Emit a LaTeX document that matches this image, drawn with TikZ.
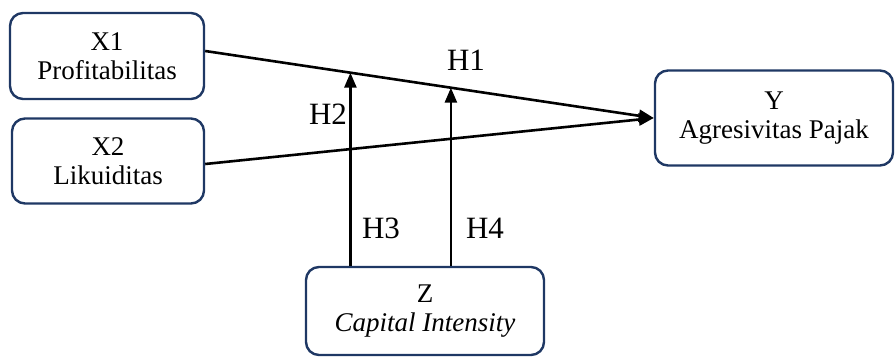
\documentclass[tikz,border=0pt]{standalone}
\usepackage{fontspec}
\setmainfont{Liberation Serif}
\usetikzlibrary{arrows.meta,calc}
\definecolor{boxblue}{HTML}{1F3864}
\begin{document}
\begin{tikzpicture}[x=1pt,y=-1pt,
  varbox/.style={draw=boxblue,line width=2.4pt,rounded corners=13pt,align=center,
    font=\fontsize{27}{29}\selectfont,inner sep=0pt},
  link/.style={line width=2.6pt,-{Triangle[length=15pt,width=12pt]}},
  hlabel/.style={font=\fontsize{31}{34}\selectfont,inner sep=0pt}]
\useasboundingbox (0,0) rectangle (896,358);
\node[varbox,minimum width=194pt,minimum height=86pt] (X1) at (107,56) {X1\\Profitabilitas};
\node[varbox,minimum width=192pt,minimum height=85pt] (X2) at (108,161) {X2\\Likuiditas};
\node[varbox,minimum width=238pt,minimum height=95pt] (Y) at (774,118) {Y\\Agresivitas Pajak};
\node[varbox,minimum width=238pt,minimum height=88pt] (Z) at (425,311) {Z\\\textit{Capital Intensity}};
\coordinate (s1) at ([yshift=5pt]X1.east);
\coordinate (s2) at ([yshift=-3pt]X2.east);
\draw[link] (s1) -- (Y.west);
\draw[link] (s2) -- (Y.west);
\coordinate (p1) at ($(s1)!0.3237!(Y.west)$);
\coordinate (p2) at ($(s1)!0.5477!(Y.west)$);
\draw[link] (Z.north -| p1) -- (p1);
\draw[link] (Z.north -| p2) -- (p2);
\node[hlabel] (H1) at (466,60) {H1};
\node[hlabel] (H2) at (328,114) {H2};
\node[hlabel] (H3) at (381,228) {H3};
\node[hlabel] (H4) at (485,228) {H4};
\end{tikzpicture}
\end{document}
